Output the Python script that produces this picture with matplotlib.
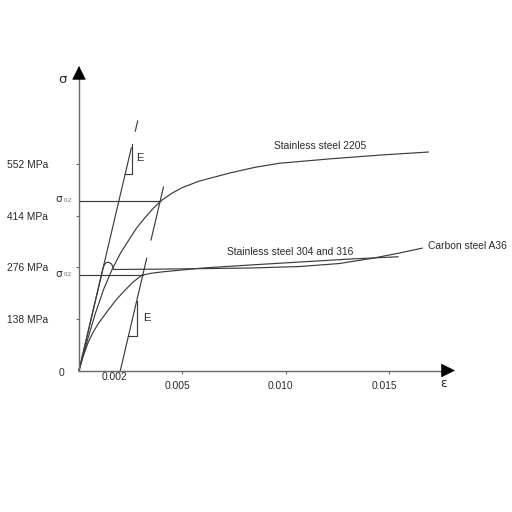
import matplotlib
matplotlib.use("Agg")
import matplotlib.pyplot as plt
from matplotlib.transforms import ScaledTranslation

plt.rcParams["font.family"] = ["Liberation Sans", "DejaVu Sans"]

# ------------------------------------------------------------------
# Data (strain [-], stress [MPa])
# ------------------------------------------------------------------
strain_2205 = [0, 0.0004, 0.0008, 0.0012, 0.0016, 0.0020, 0.0024, 0.0028, 0.0032,
               0.0036, 0.0040, 0.0045, 0.0050, 0.0058, 0.0073, 0.0085, 0.0097,
               0.0122, 0.0146, 0.0169]
stress_2205 = [0, 80, 154, 218, 270, 313, 348, 382, 409, 434, 455, 474, 489,
               506, 528, 543, 554, 566, 576, 584]

strain_304 = [0, 0.00020, 0.00045, 0.00070, 0.00093, 0.00142, 0.00180, 0.00223,
              0.00265, 0.00305, 0.00350, 0.00408, 0.0060, 0.00827, 0.01069,
              0.01311, 0.01544]
stress_304 = [0, 38, 76, 104, 125, 162, 189, 215, 238, 255, 260, 264, 274, 282,
              290, 298, 304]

strain_a36 = [0, 0.00116, 0.00123, 0.00133, 0.00145, 0.00157, 0.00164, 0.00166,
              0.0039, 0.0083, 0.0107, 0.0126, 0.0142, 0.0155, 0.0166]
stress_a36 = [0, 273, 283, 289, 289, 285, 277, 270, 271, 274, 278, 286, 300,
              314, 327]

E_mod = 235000.0          # schematic elastic modulus, MPa
offset = 0.002            # 0.2 % offset
sig02_2205 = 454
sig02_304 = 255

e_line_parts = [(0, 595), (640, 667)]      # stress ranges of the E line
offset_parts = [(0, 300), (349, 490)]      # stress ranges of the offset line
tri_top = (525, 0.00258)                   # (base stress, vertical strain)
tri_bot = (92, 0.00279)

ytick_vals = [138, 276, 414, 552]
ytick_labels = ["138 MPa", "276 MPa", "414 MPa", "552 MPa"]
xtick_vals = [0.005, 0.010, 0.015]
xtick_labels = ["0.005", "0.010", "0.015"]

# ------------------------------------------------------------------
fig = plt.figure(figsize=(5.12, 5.12), dpi=100)
ax = fig.add_axes([0, 0, 1, 1])
ax.set_xlim(-0.003822, 0.020951)
ax.set_ylim(-378.2, 990.4)

line_c = "#3c3c3c"
axis_c = "#6a6a6a"
text_c = "#2a2a2a"
lw = 0.85
fs = 7.4

for s in ["top", "right"]:
    ax.spines[s].set_visible(False)
for s in ["left", "bottom"]:
    ax.spines[s].set_position(("data", 0))
    ax.spines[s].set_color(axis_c)
    ax.spines[s].set_linewidth(1.0)
ax.spines["left"].set_bounds(0, 785)
ax.spines["bottom"].set_bounds(0, 0.0177)

ax.set_yticks(ytick_vals, ytick_labels)
ax.set_xticks(xtick_vals, xtick_labels)
ax.tick_params(axis="y", direction="out", length=2.2, width=0.8, color=axis_c,
               pad=20, labelsize=fs, labelcolor=text_c)
ax.tick_params(axis="x", direction="out", length=2.2, width=0.8, color=axis_c,
               pad=5, labelsize=fs, labelcolor=text_c)
shift = ScaledTranslation(-5 / 100, 0, fig.dpi_scale_trans)
for lab in ax.get_xticklabels():
    lab.set_transform(lab.get_transform() + shift)

# arrow heads
head = dict(arrowstyle="-|>,head_length=0.9,head_width=0.45", fc="black",
            ec="black", lw=0.5, mutation_scale=10, shrinkA=0, shrinkB=0)
ax.annotate("", xy=(0, 814), xytext=(0, 790), arrowprops=head)
ax.annotate("", xy=(0.01819, 0), xytext=(0.0176, 0), arrowprops=head)

# curves
ax.plot(strain_2205, stress_2205, color=line_c, lw=lw)
ax.plot(strain_304, stress_304, color=line_c, lw=lw)
ax.plot(strain_a36, stress_a36, color=line_c, lw=lw)

# E line from origin and 0.2 % offset line
for lo, hi in e_line_parts:
    ax.plot([lo / E_mod, hi / E_mod], [lo, hi], color=line_c, lw=lw)
for lo, hi in offset_parts:
    ax.plot([offset + lo / E_mod, offset + hi / E_mod], [lo, hi], color=line_c, lw=lw)

# slope triangles
s0, ev = tri_top
ax.plot([s0 / E_mod, ev, ev], [s0, s0, ev * E_mod], color=line_c, lw=lw)
s0, ev = tri_bot
ax.plot([offset + s0 / E_mod, ev, ev], [s0, s0, (ev - offset) * E_mod],
        color=line_c, lw=lw)

# sigma 0.2 levels with their labels
for sig in (sig02_2205, sig02_304):
    ax.plot([0, offset + sig / E_mod], [sig, sig], color=line_c, lw=lw)
    ax.text(-0.00100, sig + 4, "σ", fontsize=7.5, ha="center", va="center",
            color=text_c, family="DejaVu Sans")
    ax.text(-0.00055, sig + 1, "0.2", fontsize=4.2, ha="center", va="center",
            color="#666666")

# labels
ax.text(0.00295, 568, "E", fontsize=8, ha="center", va="center", color=text_c)
ax.text(0.00328, 140, "E", fontsize=8, ha="center", va="center", color=text_c)
ax.text(0.01166, 600, "Stainless steel 2205", fontsize=fs, ha="center",
        va="center", color=text_c)
ax.text(0.01023, 318, "Stainless steel 304 and 316", fontsize=fs, ha="center",
        va="center", color=text_c)
ax.text(0.01689, 334, "Carbon steel A36", fontsize=fs, ha="left",
        va="center", color=text_c)
ax.text(0.00174, -17, "0.002", fontsize=fs, ha="center", va="center", color=text_c)
ax.text(-0.00087, -6, "0", fontsize=fs, ha="center", va="center", color=text_c)
ax.text(-0.0008, 778, "σ", fontsize=9.5, ha="center", va="center",
        color=text_c, family="DejaVu Sans")
ax.text(0.01764, -35, "ε", fontsize=9, ha="center", va="center",
        color=text_c, family="DejaVu Sans")

fig.savefig("out.png", dpi=100, facecolor="white")
